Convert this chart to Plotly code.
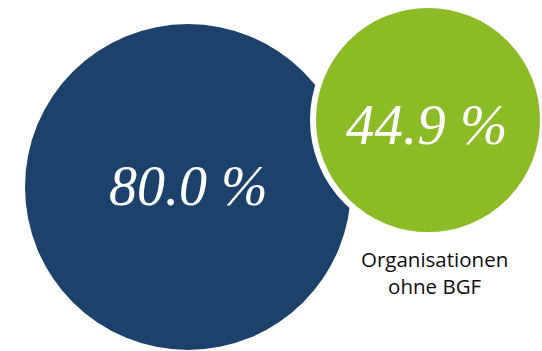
import plotly.graph_objects as go

# Data
categories = ["Organisationen mit BGF", "Organisationen ohne BGF"]
values = [80.0, 44.9]
value_labels = ["80.0 %", "44.9 %"]
label_text = ["", "Organisationen<br>ohne BGF"]

W, H = 542, 351
BLUE = "#1c416a"
GREEN = "#8bbc26"

# Layout positions (pixel coordinates) for the bubbles
cx = [188, 428]
cy = [187, 120]
diam = [326, 230]
line_w = [0, 6]

fig = go.Figure()
fig.add_trace(go.Scatter(
    x=cx, y=cy, mode="markers",
    marker=dict(size=diam, sizemode="diameter", color=[BLUE, GREEN],
                line=dict(color="white", width=line_w), opacity=1),
    hoverinfo="skip", showlegend=False, customdata=values,
))

fig.add_annotation(x=cx[0], y=186, text=value_labels[0], showarrow=False,
                   font=dict(family="Liberation Serif", size=56, color="white", style="italic"),
                   xanchor="center", yanchor="middle")
fig.add_annotation(x=cx[1] - 2, y=124, text=value_labels[1], showarrow=False,
                   font=dict(family="Liberation Serif", size=57, color="white", style="italic"),
                   xanchor="center", yanchor="middle")
fig.add_annotation(x=434, y=272, text=label_text[1], showarrow=False,
                   font=dict(family="Open Sans", size=20.5, color="#0d0d0d"),
                   xanchor="center", yanchor="middle", align="center")

fig.update_layout(
    width=W, height=H, margin=dict(l=0, r=0, t=0, b=0),
    paper_bgcolor="white", plot_bgcolor="white",
    xaxis=dict(range=[0, W], visible=False, fixedrange=True),
    yaxis=dict(range=[H, 0], visible=False, fixedrange=True),
)
fig.write_html("out.html")
